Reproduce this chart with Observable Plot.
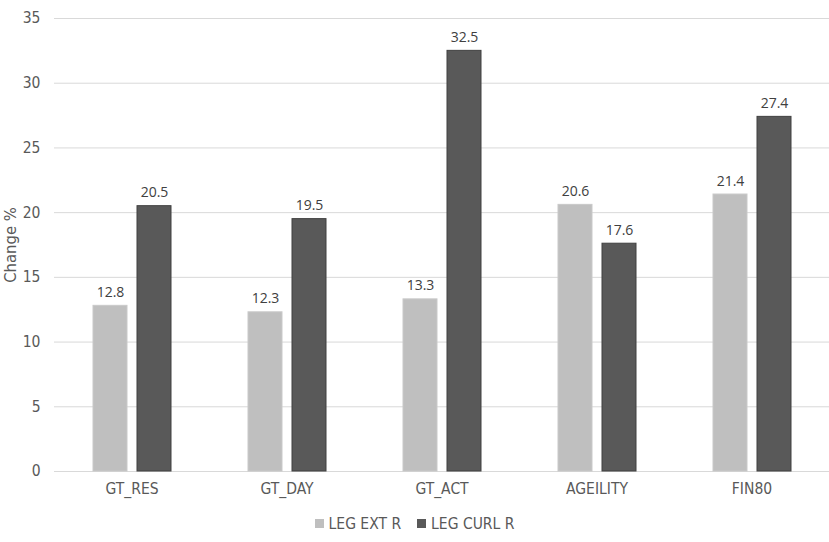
<!DOCTYPE html>
<html>
<head>
<meta charset="utf-8">
<script src="https://cdn.jsdelivr.net/npm/d3@7"></script>
<script src="https://cdn.jsdelivr.net/npm/@observablehq/plot@0.6"></script>
<style>
  html, body { margin: 0; padding: 0; background: #fff; }
  #chart { width: 829px; }
  .legend { display: flex; justify-content: center; align-items: center; height: 37px;
    font-family: "DejaVu Sans Condensed", "Liberation Sans", sans-serif; font-size: 15.5px; color: #595959; }
  .legend span.sw { display: inline-block; width: 9px; height: 9px; margin-right: 5px; }
  .legend .item { display: flex; align-items: center; margin: 0 8px; }
</style>
</head>
<body>
<div id="chart"></div>
<script>
const categories = ["GT_RES", "GT_DAY", "GT_ACT", "AGEILITY", "FIN80"];
const seriesNames = ["LEG EXT R", "LEG CURL R"];
const legExtR = [12.8, 12.3, 13.3, 20.6, 21.4];
const legCurlR = [20.5, 19.5, 32.5, 17.6, 27.4];
const yTicks = [0, 5, 10, 15, 20, 25, 30, 35];
const colors = ["#BFBFBF", "#595959"];
const strokes = ["#C9C9C9", "#404040"];

const data = [];
categories.forEach((c, i) => {
  data.push({category: c, series: seriesNames[0], value: legExtR[i]});
  data.push({category: c, series: seriesNames[1], value: legCurlR[i]});
});

const plot = Plot.plot({
  width: 829,
  height: 505,
  marginTop: 18,
  marginBottom: 34,
  marginLeft: 54,
  marginRight: 0,
  style: {fontFamily: "DejaVu Sans Condensed, Liberation Sans, sans-serif", fontSize: "15px", color: "#595959", background: "#fff"},
  fx: {domain: categories, padding: 0, label: null},
  x: {domain: seriesNames, paddingInner: 10/44, paddingOuter: 0.875, axis: null},
  y: {domain: [0, 35], ticks: yTicks, label: null},
  color: {domain: seriesNames, range: colors},
  marks: [
    Plot.gridY(yTicks, {stroke: "#D9D9D9", strokeOpacity: 1, strokeWidth: 1}),
    Plot.axisY(yTicks, {tickSize: 0, tickPadding: 14, fontSize: 15.5, fill: "#595959",
      label: "Change %", labelAnchor: "center", labelArrow: "none", labelOffset: 50}),
    Plot.axisFx({anchor: "bottom", tickSize: 0, tickPadding: 11, fontSize: 15.5, fill: "#595959", label: null}),
    Plot.barY(data, {fx: "category", x: "series", y: "value", fill: "series",
      stroke: d => strokes[seriesNames.indexOf(d.series)], strokeWidth: 1}),
    Plot.text(data, {fx: "category", x: "series", y: "value", text: d => d.value.toFixed(1),
      lineAnchor: "bottom", dy: -9, fontSize: 14, fill: "#404040",
      fontFamily: "Open Sans, DejaVu Sans, sans-serif"})
  ]
});
// enlarge the y-axis label slightly
plot.querySelectorAll("[aria-label='y-axis label'] text, g[aria-label='y-axis label']").forEach(el => el.setAttribute("font-size", "16.5"));

const root = document.getElementById("chart");
root.appendChild(plot);
const legend = document.createElement("div");
legend.className = "legend";
seriesNames.forEach((s, i) => {
  const item = document.createElement("div");
  item.className = "item";
  const sw = document.createElement("span");
  sw.className = "sw";
  sw.style.background = colors[i];
  item.appendChild(sw);
  item.appendChild(document.createTextNode(s));
  legend.appendChild(item);
});
root.appendChild(legend);
</script>
</body>
</html>
